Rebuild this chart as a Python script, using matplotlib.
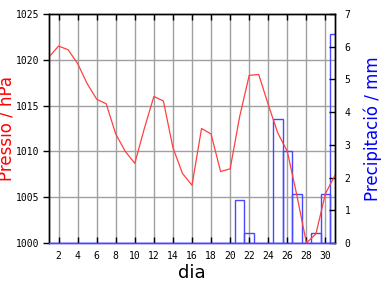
import matplotlib
matplotlib.use("Agg")
import matplotlib.pyplot as plt
import numpy as np

# data
dies = np.arange(1, 32)
pressio = [1020.3, 1021.5, 1021.1, 1019.6, 1017.4, 1015.7, 1015.2, 1011.9, 1010.0, 1008.7,
           1012.5, 1016.0, 1015.5, 1010.4, 1007.6, 1006.3, 1012.5, 1011.9, 1007.8, 1008.1,
           1013.8, 1018.3, 1018.4, 1015.1, 1012.0, 1010.0, 1005.2, 1000.0, 1001.0, 1005.4,
           1007.4]
precip = [0, 0, 0, 0, 0, 0, 0, 0, 0, 0,
          0, 0, 0, 0, 0, 0, 0, 0, 0, 0,
          1.3, 0.3, 0, 0, 3.8, 2.8, 1.5, 0, 0.3, 1.5,
          6.4]
xticks = list(range(2, 31, 2))

red = "#ff4040"
blue = "#4848ff"
gray = "#a0a0a0"

fig = plt.figure(figsize=(3.84, 2.88), dpi=100)
ax = fig.add_axes([49/384, 45/288, 286/384, 229/288])
ax2 = ax.twinx()

# precipitation bars (unfilled)
ax2.bar(dies, precip, width=1.0, fill=False, edgecolor=blue, linewidth=1.0)
ax2.set_ylim(0, 7)
ax2.set_yticks(range(0, 8))

# pressure line on top
ax.set_zorder(ax2.get_zorder() + 1)
ax.patch.set_visible(False)
ax.plot(dies, pressio, color=red, linewidth=0.9)
ax.set_xlim(1, 31)
ax.set_ylim(1000, 1025)
ax.set_xticks(xticks)
ax.set_yticks(range(1000, 1026, 5))

# grid drawn on the bars axis so it sits behind
for x in xticks:
    ax2.axvline(x, color=gray, linewidth=1.0, zorder=0)
for p in range(1005, 1025, 5):
    ax2.axhline((p - 1000) / 25 * 7, color=gray, linewidth=1.0, zorder=0)

mono = "DejaVu Sans Mono"
ax.tick_params(axis="x", direction="in", length=4, width=1, top=True, labelsize=7, pad=6)
ax.tick_params(axis="y", direction="out", length=4, width=1, labelsize=7, pad=3)
ax2.tick_params(axis="y", direction="in", length=4, width=1, labelsize=7, pad=7)
for lab in ax.get_xticklabels() + ax.get_yticklabels() + ax2.get_yticklabels():
    lab.set_family(mono)

for a in (ax, ax2):
    for s in a.spines.values():
        s.set_linewidth(1.0)
        s.set_color("black")
    a.spines["bottom"].set_color(blue)

ax.set_xlabel("dia", fontsize=13, labelpad=2)
ax.set_ylabel("Pressió / hPa", color="red", fontsize=12)
ax.yaxis.set_label_coords(-32/286, 0.5)
ax2.set_ylabel("Precipitació / mm", color="blue", fontsize=12, rotation=90)
ax2.yaxis.set_label_coords(1 + 29/286, 0.5)

fig.savefig("out.png", dpi=100)
